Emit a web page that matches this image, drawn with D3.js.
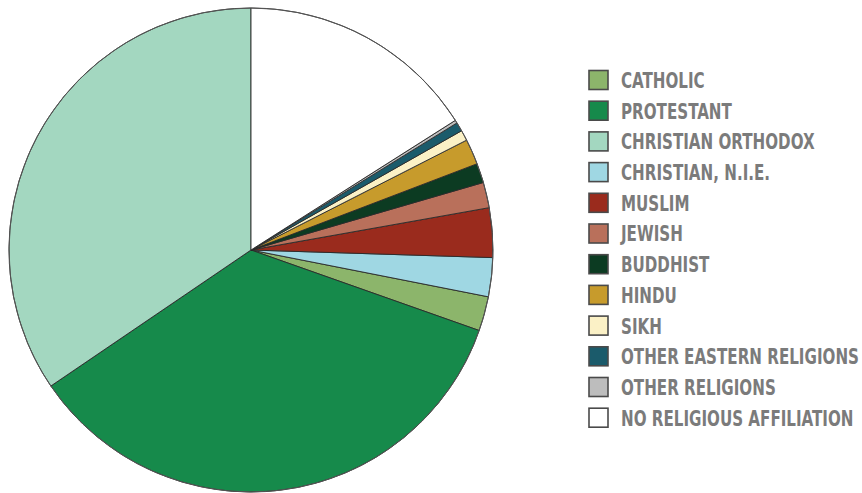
<!DOCTYPE html>
<html>
<head>
<meta charset="utf-8">
<script src="https://cdn.jsdelivr.net/npm/d3@7"></script>
<style>
  html, body { margin: 0; padding: 0; background: #ffffff; }
  svg { display: block; }
</style>
</head>
<body>
<svg id="chart" width="862" height="493"></svg>
<script>
// Legend order
const categories = [
  "CATHOLIC", "PROTESTANT", "CHRISTIAN ORTHODOX", "CHRISTIAN, N.I.E.",
  "MUSLIM", "JEWISH", "BUDDHIST", "HINDU", "SIKH",
  "OTHER EASTERN RELIGIONS", "OTHER RELIGIONS", "NO RELIGIOUS AFFILIATION"
];
// Percent shares
const values = [2.3, 35.1, 34.5, 2.6, 3.3, 1.7, 1.3, 1.7, 0.7, 0.6, 0.2, 16.0];
const colors = [
  "#8cb56b", "#168a4b", "#a3d7c0", "#9fd7e3", "#9a2b1d", "#b9705b",
  "#0c3b22", "#c79b2c", "#fbf1c6", "#1b5b6b", "#bdbdbd", "#ffffff"
];
// Clockwise drawing order, starting at 12 o'clock
const pieOrder = [
  "NO RELIGIOUS AFFILIATION", "OTHER RELIGIONS", "OTHER EASTERN RELIGIONS",
  "SIKH", "HINDU", "BUDDHIST", "JEWISH", "MUSLIM", "CHRISTIAN, N.I.E.",
  "CATHOLIC", "PROTESTANT", "CHRISTIAN ORTHODOX"
];

const data = categories.map((c, i) => ({ name: c, value: values[i], color: colors[i] }));
const svg = d3.select("#chart");

const cx = 251, cy = 250, R = 242;
const pie = d3.pie()
  .value(d => d.value)
  .sort((a, b) => pieOrder.indexOf(a.name) - pieOrder.indexOf(b.name))
  .startAngle(0).endAngle(2 * Math.PI);
const arc = d3.arc().innerRadius(0).outerRadius(R);

const g = svg.append("g").attr("transform", `translate(${cx},${cy})`);
g.selectAll("path.slice")
  .data(pie(data))
  .join("path")
  .attr("class", "slice")
  .attr("d", arc)
  .attr("fill", d => d.data.color)
  .attr("stroke", "#2a2a2a")
  .attr("stroke-width", 0.9)
  .attr("stroke-linejoin", "round");

g.append("circle").attr("r", R).attr("fill", "none")
  .attr("stroke", "#555").attr("stroke-width", 1);

// Legend
const lx = 589, ly0 = 80, step = 30.7, sq = 19;
const leg = svg.append("g");
const items = leg.selectAll("g.item").data(data).join("g")
  .attr("class", "item")
  .attr("transform", (d, i) => `translate(${lx},${ly0 + i * step})`);
items.append("rect")
  .attr("x", 0).attr("y", -sq / 2).attr("width", sq).attr("height", sq)
  .attr("fill", d => d.color)
  .attr("stroke", "#4a4a4a").attr("stroke-width", 1.6);
const texts = items.append("text")
  .attr("x", 32).attr("y", 0).attr("dy", "0.37em")
  .attr("font-family", "'Liberation Sans Narrow', 'DejaVu Sans Condensed', 'Roboto Condensed', Arial, sans-serif")
  .attr("font-weight", "bold")
  .attr("font-size", 21.5)
  .attr("fill", "#7b7b7b")
  .text(d => d.name);

// Scale text horizontally so the longest label matches the reference width
const longest = texts.filter(d => d.name === "OTHER EASTERN RELIGIONS").node();
const w = longest.getComputedTextLength();
const sx = 238 / w;
texts.attr("transform", `translate(32,0) scale(${sx},1) translate(-32,0)`);
</script>
</body>
</html>
